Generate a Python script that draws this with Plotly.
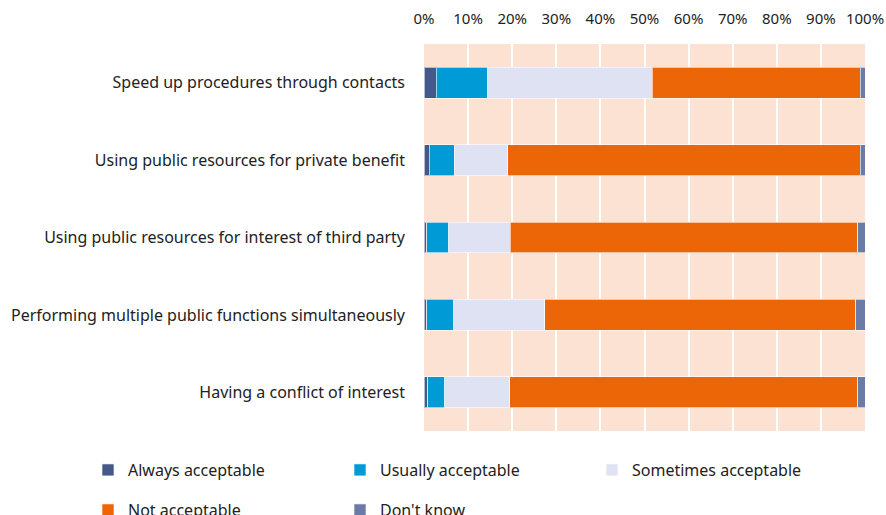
import plotly.graph_objects as go

categories = [
    "Speed up procedures through contacts",
    "Using public resources for private benefit",
    "Using public resources for interest of third party",
    "Performing multiple public functions simultaneously",
    "Having a conflict of interest",
]

always = [2.8, 1.2, 0.6, 0.6, 0.8]
usually = [11.6, 5.7, 5.0, 6.1, 3.9]
sometimes = [37.3, 12.1, 14.0, 20.7, 14.7]
not_acc = [47.2, 79.9, 78.8, 70.5, 79.0]
dont_know = [1.1, 1.1, 1.6, 2.1, 1.6]

series = [
    ("Always acceptable", always, "#42598A"),
    ("Usually acceptable", usually, "#009AD7"),
    ("Sometimes acceptable", sometimes, "#DFE2F3"),
    ("Not acceptable", not_acc, "#EC6608"),
    ("Don't know", dont_know, "#6A7BA8"),
]

# legend slots (column, row) - one small legend per series
legend_slots = [(0, 0), (1, 0), (2, 0), (0, 1), (1, 1)]

font = "Noto Sans, Open Sans, sans-serif"

fig = go.Figure()

legend_layout = {}
for i, ((name, values, color), (col, row)) in enumerate(zip(series, legend_slots)):
    leg = "legend" if i == 0 else f"legend{i + 1}"
    fig.add_trace(
        go.Bar(
            y=categories,
            x=values,
            name=name,
            orientation="h",
            marker=dict(color=color, line=dict(color="rgba(255,255,255,0.6)", width=1)),
            legend=leg,
            showlegend=True,
        )
    )
    legend_layout[leg] = dict(
        orientation="h",
        xref="container",
        x=(88 + col * 252) / 886,
        yref="container",
        y=1 - (470 + row * 40) / 515,
        yanchor="middle",
        font=dict(size=16, color="#222222"),
        bgcolor="rgba(0,0,0,0)",
    )

fig.update_layout(
    barmode="stack",
    bargap=0.6,
    width=886,
    height=515,
    showlegend=True,
    margin=dict(l=424, r=21, t=44, b=84, autoexpand=False),
    paper_bgcolor="white",
    plot_bgcolor="#FCE2D2",
    font=dict(family=font, size=16, color="#222222"),
    xaxis=dict(
        side="top",
        range=[0, 100],
        tickvals=list(range(0, 101, 10)),
        ticktext=[f"{v}%" for v in range(0, 101, 10)],
        showgrid=True,
        gridcolor="white",
        gridwidth=2,
        zeroline=False,
        ticks="",
        ticklabelstandoff=16,
        tickfont=dict(size=15),
        automargin=False,
    ),
    yaxis=dict(
        categoryorder="array",
        categoryarray=categories[::-1],
        showgrid=False,
        ticks="",
        ticklabelstandoff=18,
        automargin=False,
    ),
    **legend_layout,
)

# drop the default page margin so the 886x515 figure fills the window exactly
fig.write_html(
    "out.html",
    config={"displayModeBar": False},
    post_script="document.body.style.margin='0';document.body.style.overflow='hidden';",
)
